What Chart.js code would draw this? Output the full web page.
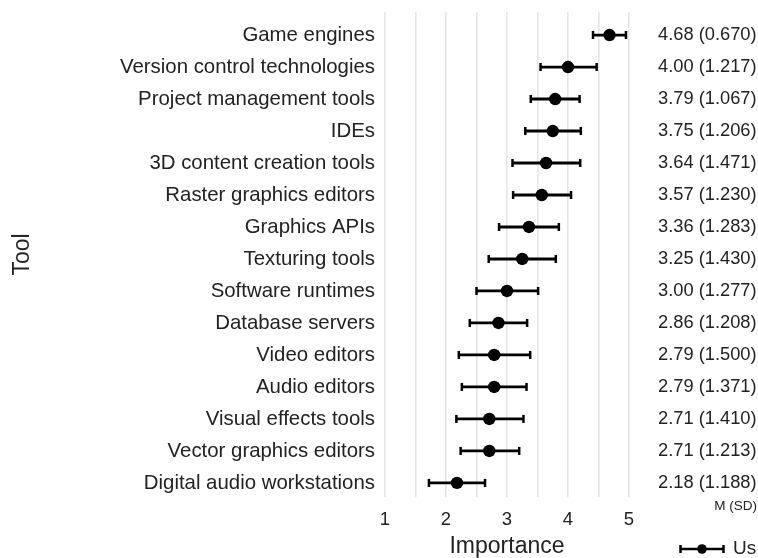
<!DOCTYPE html>
<html>
<head>
<meta charset="utf-8">
<script src="https://cdn.jsdelivr.net/npm/chart.js@4"></script>
<style>
  html, body { margin: 0; padding: 0; background: #ffffff; }
  #wrap { width: 758px; height: 558px; }
</style>
</head>
<body>
<div id="wrap"><canvas id="c" width="758" height="558"></canvas></div>
<script>
// ---- data ----
const categories = [
  "Game engines", "Version control technologies", "Project management tools", "IDEs",
  "3D content creation tools", "Raster graphics editors", "Graphics APIs", "Texturing tools",
  "Software runtimes", "Database servers", "Video editors", "Audio editors",
  "Visual effects tools", "Vector graphics editors", "Digital audio workstations"
];
const means = [4.68, 4.00, 3.79, 3.75, 3.64, 3.57, 3.36, 3.25, 3.00, 2.86, 2.79, 2.79, 2.71, 2.71, 2.18];
const sds   = [0.670, 1.217, 1.067, 1.206, 1.471, 1.230, 1.283, 1.430, 1.277, 1.208, 1.500, 1.371, 1.410, 1.213, 1.188];
const lower = [4.41, 3.55, 3.39, 3.30, 3.09, 3.10, 2.87, 2.70, 2.50, 2.39, 2.21, 2.26, 2.17, 2.24, 1.72];
const upper = [4.95, 4.47, 4.19, 4.21, 4.20, 4.05, 3.85, 3.80, 3.51, 3.33, 3.38, 3.32, 3.27, 3.20, 2.64];
const xTicks = [1, 2, 3, 4, 5];
const seriesName = "Us";

// ---- build chart structures ----
const msdLabels = means.map((m, i) => m.toFixed(2) + " (" + sds[i].toFixed(3) + ")");
const meanPoints = means.map((m, i) => ({ x: m, y: i }));
const barPoints = [];
lower.forEach((lo, i) => {
  barPoints.push({ x: lo, y: i });
  barPoints.push({ x: upper[i], y: i });
  barPoints.push({ x: null, y: null });
});

const FONT = "'Liberation Sans', Arial, Helvetica, sans-serif";
const TXT = "#222222";

const extras = {
  id: "extras",
  afterDraw(chart) {
    const ctx = chart.ctx;
    ctx.save();
    // "M (SD)" caption
    ctx.fillStyle = TXT;
    ctx.font = "13.5px " + FONT;
    ctx.textAlign = "right";
    ctx.textBaseline = "middle";
    ctx.fillText("M (SD)", 757, 506);
    // legend
    const ly = 549;
    ctx.strokeStyle = "#000";
    ctx.lineWidth = 2.5;
    ctx.beginPath();
    ctx.moveTo(680, ly); ctx.lineTo(724, ly);
    ctx.moveTo(680.5, ly - 4); ctx.lineTo(680.5, ly + 4);
    ctx.moveTo(723.5, ly - 4); ctx.lineTo(723.5, ly + 4);
    ctx.stroke();
    ctx.fillStyle = "#000";
    ctx.beginPath();
    ctx.arc(702, ly, 4.8, 0, Math.PI * 2);
    ctx.fill();
    ctx.fillStyle = TXT;
    ctx.font = "19px " + FONT;
    ctx.textAlign = "left";
    ctx.fillText(seriesName, 733, ly);
    ctx.restore();
  }
};

function fitV(width) {
  return (s) => { s.width = width; s.paddingTop = 0; s.paddingBottom = 0; };
}

new Chart(document.getElementById("c"), {
  type: "line",
  data: {
    datasets: [
      {
        label: seriesName,
        data: meanPoints,
        showLine: false,
        pointRadius: 6.2,
        pointBackgroundColor: "#000",
        pointBorderWidth: 0,
        order: 0
      },
      {
        label: "ci",
        data: barPoints,
        borderColor: "#000",
        borderWidth: 2.8,
        spanGaps: false,
        pointStyle: "line",
        pointRotation: 90,
        pointRadius: 4,
        pointBorderWidth: 2.5,
        pointBorderColor: "#000",
        order: 1
      }
    ]
  },
  options: {
    responsive: false,
    animation: false,
    devicePixelRatio: 1,
    layout: { padding: { top: 12, left: 0, right: 0, bottom: 0 } },
    plugins: { legend: { display: false }, tooltip: { enabled: false } },
    scales: {
      x: {
        type: "linear",
        min: 1, max: 5,
        afterFit(s) { s.height = 61; s.paddingLeft = 0; s.paddingRight = 0; },
        border: { display: false },
        grid: { color: "#e6e6e6", lineWidth: 1.6, drawTicks: false },
        ticks: {
          stepSize: 0.5,
          maxRotation: 0,
          padding: 12,
          color: TXT,
          font: { family: FONT, size: 18.5 },
          callback: (v) => xTicks.includes(v) ? String(v) : ""
        },
        title: {
          display: true, text: "Importance", color: TXT,
          font: { family: FONT, size: 23, lineHeight: 1 },
          padding: { top: 0, bottom: 0 }
        }
      },
      y: {
        type: "linear",
        position: "left",
        reverse: true,
        min: -0.72, max: 14.44,
        afterFit: fitV(385),
        border: { display: false },
        grid: { display: false, drawTicks: false },
        ticks: {
          stepSize: 1,
          includeBounds: false,
          padding: 10,
          autoSkip: false,
          color: TXT,
          font: { family: FONT, size: 20.4 },
          callback: (v) => (Number.isInteger(v) && v >= 0 && v < categories.length) ? categories[v] : ""
        },
        title: {
          display: true, text: "Tool", color: TXT,
          font: { family: FONT, size: 23, lineHeight: 1 },
          padding: { top: 11, bottom: 0 }
        }
      },
      y2: {
        type: "linear",
        position: "right",
        reverse: true,
        min: -0.72, max: 14.44,
        afterFit: fitV(129),
        border: { display: false },
        grid: { display: false, drawTicks: false },
        ticks: {
          stepSize: 1,
          includeBounds: false,
          padding: 29,
          autoSkip: false,
          color: TXT,
          font: { family: FONT, size: 18.3 },
          callback: (v) => (Number.isInteger(v) && v >= 0 && v < msdLabels.length) ? msdLabels[v] : ""
        }
      }
    }
  },
  plugins: [extras]
});
</script>
</body>
</html>
